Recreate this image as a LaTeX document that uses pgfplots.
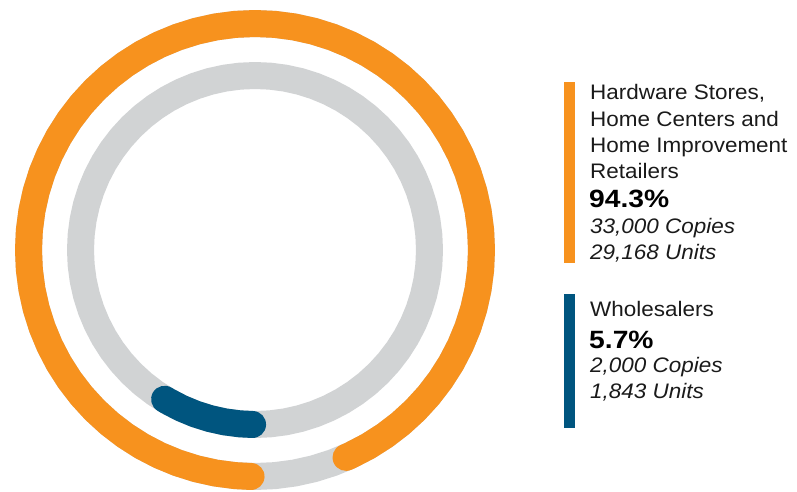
\documentclass[border=0pt]{standalone}
\usepackage{pgfplots}
\pgfplotsset{compat=1.18}
\usepgfplotslibrary{polar}
\usepackage{fontspec}
\setmainfont{Liberation Sans}[FakeStretch=1.07, BoldFeatures={FakeStretch=1.13}]
\definecolor{cOrange}{HTML}{F7921E}
\definecolor{cBlue}{HTML}{00557F}
\definecolor{cGrey}{HTML}{D1D3D4}
\definecolor{cText}{HTML}{1A1A1A}
\begin{document}
\begin{tikzpicture}[x=1pt,y=1pt]
\useasboundingbox (0,0) rectangle (797,491);
\begin{polaraxis}[at={(255pt,241pt)}, anchor=center, scale only axis,
  width=500pt, height=500pt, ymin=0, ymax=250, hide axis, clip=false,
  every axis plot/.append style={no marks, line width=27pt, line cap=round, line join=round}]
% outer track (grey)
\addplot[cGrey] coordinates {(0,226.5) (5,226.5) (10,226.5) (15,226.5) (20,226.5) (25,226.5) (30,226.5) (35,226.5) (40,226.5) (45,226.5) (50,226.5) (55,226.5) (60,226.5) (65,226.5) (70,226.5) (75,226.5) (80,226.5) (85,226.5) (90,226.5) (95,226.5) (100,226.5) (105,226.5) (110,226.5) (115,226.5) (120,226.5) (125,226.5) (130,226.5) (135,226.5) (140,226.5) (145,226.5) (150,226.5) (155,226.5) (160,226.5) (165,226.5) (170,226.5) (175,226.5) (180,226.5) (185,226.5) (190,226.5) (195,226.5) (200,226.5) (205,226.5) (210,226.5) (215,226.5) (220,226.5) (225,226.5) (230,226.5) (235,226.5) (240,226.5) (245,226.5) (250,226.5) (255,226.5) (260,226.5) (265,226.5) (270,226.5) (275,226.5) (280,226.5) (285,226.5) (290,226.5) (295,226.5) (300,226.5) (305,226.5) (310,226.5) (315,226.5) (320,226.5) (325,226.5) (330,226.5) (335,226.5) (340,226.5) (345,226.5) (350,226.5) (355,226.5) (360,226.5)};
% inner track (grey)
\addplot[cGrey] coordinates {(0,174.5) (5,174.5) (10,174.5) (15,174.5) (20,174.5) (25,174.5) (30,174.5) (35,174.5) (40,174.5) (45,174.5) (50,174.5) (55,174.5) (60,174.5) (65,174.5) (70,174.5) (75,174.5) (80,174.5) (85,174.5) (90,174.5) (95,174.5) (100,174.5) (105,174.5) (110,174.5) (115,174.5) (120,174.5) (125,174.5) (130,174.5) (135,174.5) (140,174.5) (145,174.5) (150,174.5) (155,174.5) (160,174.5) (165,174.5) (170,174.5) (175,174.5) (180,174.5) (185,174.5) (190,174.5) (195,174.5) (200,174.5) (205,174.5) (210,174.5) (215,174.5) (220,174.5) (225,174.5) (230,174.5) (235,174.5) (240,174.5) (245,174.5) (250,174.5) (255,174.5) (260,174.5) (265,174.5) (270,174.5) (275,174.5) (280,174.5) (285,174.5) (290,174.5) (295,174.5) (300,174.5) (305,174.5) (310,174.5) (315,174.5) (320,174.5) (325,174.5) (330,174.5) (335,174.5) (340,174.5) (345,174.5) (350,174.5) (355,174.5) (360,174.5)};
% Hardware Stores ... 94.3%
\addplot[cOrange] coordinates {(-66.3,226.5) (-65,226.5) (-60,226.5) (-55,226.5) (-50,226.5) (-45,226.5) (-40,226.5) (-35,226.5) (-30,226.5) (-25,226.5) (-20,226.5) (-15,226.5) (-10,226.5) (-5,226.5) (0,226.5) (5,226.5) (10,226.5) (15,226.5) (20,226.5) (25,226.5) (30,226.5) (35,226.5) (40,226.5) (45,226.5) (50,226.5) (55,226.5) (60,226.5) (65,226.5) (70,226.5) (75,226.5) (80,226.5) (85,226.5) (90,226.5) (95,226.5) (100,226.5) (105,226.5) (110,226.5) (115,226.5) (120,226.5) (125,226.5) (130,226.5) (135,226.5) (140,226.5) (145,226.5) (150,226.5) (155,226.5) (160,226.5) (165,226.5) (170,226.5) (175,226.5) (180,226.5) (185,226.5) (190,226.5) (195,226.5) (200,226.5) (205,226.5) (210,226.5) (215,226.5) (220,226.5) (225,226.5) (230,226.5) (235,226.5) (240,226.5) (245,226.5) (250,226.5) (255,226.5) (260,226.5) (265,226.5) (269,226.5)};
% Wholesalers 5.7%
\addplot[cBlue] coordinates {(-121.2,174.5) (-120,174.5) (-115,174.5) (-110,174.5) (-105,174.5) (-100,174.5) (-95,174.5) (-90.8,174.5)};
\end{polaraxis}
% legend bars
\fill[cOrange] (564,228) rectangle (575,409);
\fill[cBlue] (564,63) rectangle (575,197);
\begin{scope}[every node/.style={anchor=base west, inner sep=0pt, text=cText}]
\node[font=\fontsize{21}{25}\selectfont] at (590,391) {Hardware Stores,};
\node[font=\fontsize{21}{25}\selectfont] at (590,365) {Home Centers and};
\node[font=\fontsize{21}{25}\selectfont] at (590,339) {Home Improvement};
\node[font=\fontsize{21}{25}\selectfont] at (590,313) {Retailers};
\node[font=\fontsize{25}{30}\selectfont\bfseries, text=black] at (589,284) {94.3\%};
\node[font=\fontsize{21}{25}\selectfont\itshape] at (590,258) {33,000 Copies};
\node[font=\fontsize{21}{25}\selectfont\itshape] at (590,232) {29,168 Units};
\node[font=\fontsize{21}{25}\selectfont] at (590,175) {Wholesalers};
\node[font=\fontsize{25}{30}\selectfont\bfseries, text=black] at (589,143) {5.7\%};
\node[font=\fontsize{21}{25}\selectfont\itshape] at (590,119) {2,000 Copies};
\node[font=\fontsize{21}{25}\selectfont\itshape] at (590,93) {1,843 Units};
\end{scope}
\end{tikzpicture}
\end{document}
